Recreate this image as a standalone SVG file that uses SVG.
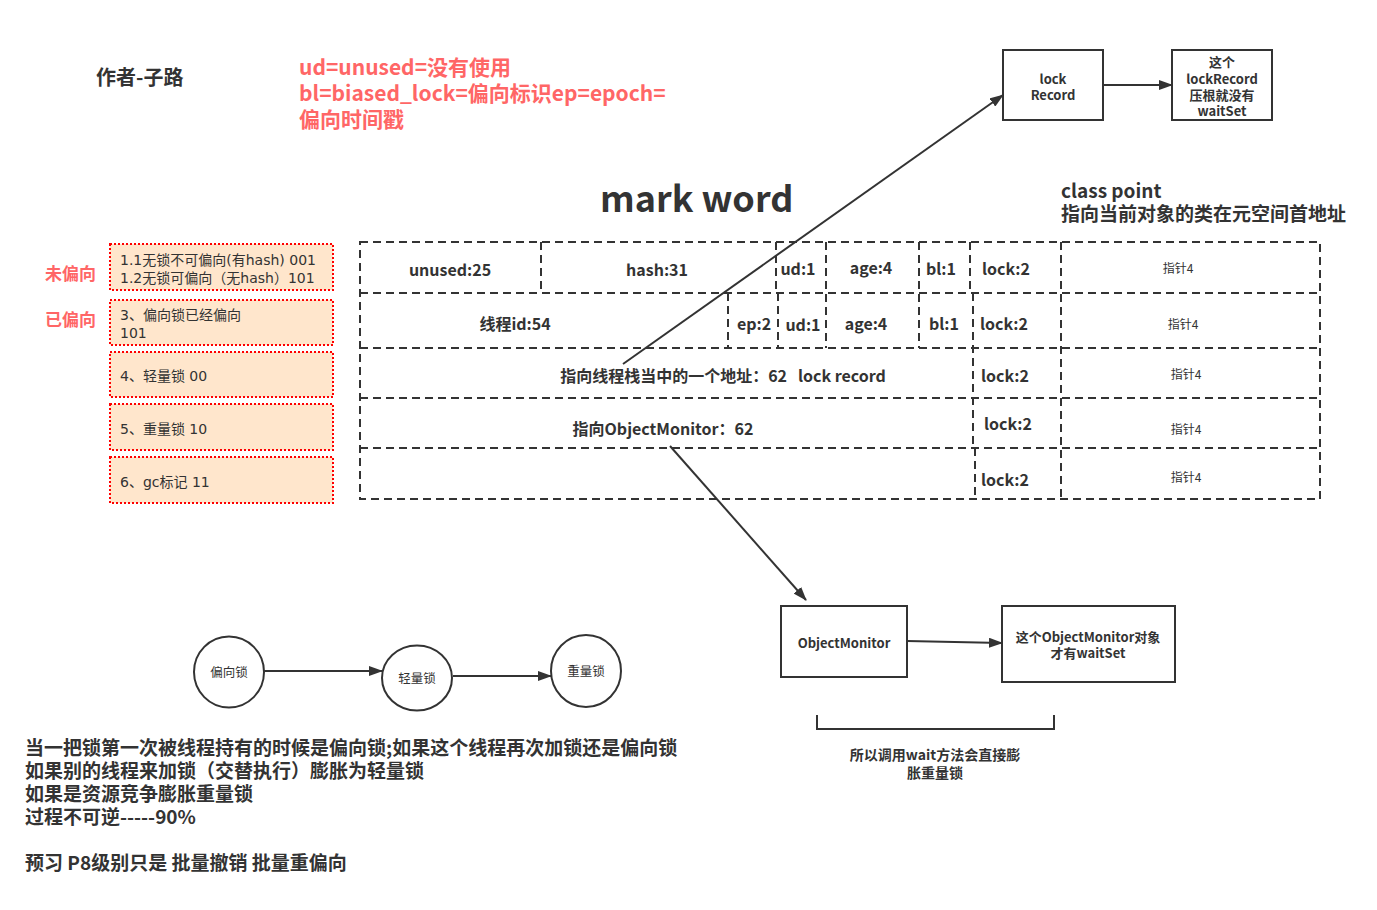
<svg xmlns="http://www.w3.org/2000/svg" width="1377" height="910" viewBox="0 0 1377 910">
<defs>
<marker id="ah" markerWidth="14" markerHeight="10" refX="13" refY="5" orient="auto" markerUnits="userSpaceOnUse">
<path d="M0,0 L14,5 L0,10 Z" fill="#333"/>
</marker>
<style>
text{font-family:"Noto Sans CJK SC","Noto Sans",sans-serif;fill:#333}
.b{font-weight:bold}
.t{font-size:16px;font-weight:bold;text-anchor:middle;white-space:pre}
.p{font-size:12px;text-anchor:middle}
.d{fill:none;stroke:#333;stroke-width:2;stroke-dasharray:8 5}
.lb{fill:#FFE6CC;stroke:#FF0000;stroke-width:2;stroke-dasharray:2 2}
.lt{font-size:14px;font-family:"DejaVu Sans","Noto Sans CJK SC",sans-serif}
.red{fill:#FF6666;font-weight:bold}
.box{fill:#fff;stroke:#333;stroke-width:2}
.s13{font-size:13px;font-weight:bold;text-anchor:middle}
.s14{font-size:14px;font-weight:bold;text-anchor:middle}
.c12{font-size:12.5px;text-anchor:middle}
.ln{stroke:#333;stroke-width:2;fill:none}
.bt{font-size:19px;font-weight:bold}
</style>
</defs>
<rect width="1377" height="910" fill="#fff"/>

<g id="titles">
<text x="96" y="85" class="b" font-size="20">作者-子路</text>
<text x="299" y="75" class="red" font-size="21">ud=unused=没有使用</text>
<text x="299" y="101" class="red" font-size="21">bl=biased_lock=偏向标识ep=epoch=</text>
<text x="299" y="127" class="red" font-size="21">偏向时间戳</text>
<text x="600" y="212" class="b" font-size="36">mark word</text>
<text x="1061" y="198" font-size="19" class="b">class point</text>
<text x="1061" y="221" font-size="19" class="b">指向当前对象的类在元空间首地址</text>
<text x="45" y="280" class="red" font-size="17">未偏向</text>
<text x="45" y="326" class="red" font-size="17">已偏向</text>
</g>

<g id="state-boxes">
<rect x="110" y="244" width="223" height="46" class="lb"/>
<text x="120" y="265" class="lt">1.1无锁不可偏向(有hash) 001</text>
<text x="120" y="283" class="lt">1.2无锁可偏向（无hash）101</text>
<rect x="110" y="300" width="223" height="45" class="lb"/>
<text x="120" y="320" class="lt">3、偏向锁已经偏向</text>
<text x="120" y="338" class="lt">101</text>
<rect x="110" y="352" width="223" height="45" class="lb"/>
<text x="120" y="381" class="lt">4、轻量锁 00</text>
<rect x="110" y="404" width="223" height="46" class="lb"/>
<text x="120" y="434" class="lt">5、重量锁 10</text>
<rect x="110" y="457" width="223" height="46" class="lb"/>
<text x="120" y="487" class="lt">6、gc标记 11</text>
</g>

<g id="markword-table">
<rect x="360" y="242" width="960" height="257" class="d"/>
<line x1="360" y1="293" x2="1320" y2="293" class="d"/>
<line x1="360" y1="348" x2="1320" y2="348" class="d"/>
<line x1="360" y1="398" x2="1320" y2="398" class="d"/>
<line x1="360" y1="448" x2="1320" y2="448" class="d"/>
<line x1="541" y1="242" x2="541" y2="293" class="d"/>
<line x1="776" y1="242" x2="776" y2="293" class="d"/>
<line x1="826" y1="242" x2="826" y2="348" class="d"/>
<line x1="919" y1="242" x2="919" y2="348" class="d"/>
<line x1="970" y1="242" x2="970" y2="293" class="d"/>
<line x1="973" y1="293" x2="973" y2="448" class="d"/>
<line x1="975" y1="448" x2="975" y2="499" class="d"/>
<line x1="1061" y1="242" x2="1061" y2="499" class="d"/>
<line x1="728" y1="293" x2="728" y2="348" class="d"/>
<line x1="778" y1="293" x2="778" y2="348" class="d"/>

<text x="450" y="276" class="t">unused:25</text>
<text x="657" y="276" class="t">hash:31</text>
<text x="798" y="275" class="t">ud:1</text>
<text x="871" y="274" class="t">age:4</text>
<text x="941" y="275" class="t">bl:1</text>
<text x="1006" y="275" class="t">lock:2</text>
<text x="1178" y="273" class="p">指针4</text>

<text x="515" y="330" class="t">线程id:54</text>
<text x="754" y="330" class="t">ep:2</text>
<text x="803" y="331" class="t">ud:1</text>
<text x="866" y="330" class="t">age:4</text>
<text x="944" y="330" class="t">bl:1</text>
<text x="1004" y="330" class="t">lock:2</text>
<text x="1183" y="329" class="p">指针4</text>

<text x="723" y="382" class="t" xml:space="preserve">指向线程栈当中的一个地址：62   lock record</text>
<text x="1005" y="382" class="t">lock:2</text>
<text x="1186" y="379" class="p">指针4</text>

<text x="663" y="435" class="t">指向ObjectMonitor：62</text>
<text x="1008" y="430" class="t">lock:2</text>
<text x="1186" y="434" class="p">指针4</text>

<text x="1005" y="486" class="t">lock:2</text>
<text x="1186" y="482" class="p">指针4</text>
</g>

<g id="lock-record">
<rect x="1003" y="50" width="100" height="70" class="box"/>
<text x="1053" y="84" class="s13">lock</text>
<text x="1053" y="100" class="s13">Record</text>
</g>
<g id="lock-record-note">
<rect x="1172" y="50" width="100" height="70" class="box"/>
<text x="1222" y="67" class="s13">这个</text>
<text x="1222" y="84" class="s13">lockRecord</text>
<text x="1222" y="100" class="s13">压根就没有</text>
<text x="1222" y="116" class="s13">waitSet</text>
</g>
<g id="object-monitor">
<rect x="781" y="606" width="126" height="71" class="box"/>
<text x="844" y="648" class="s13" font-size="13.5">ObjectMonitor</text>
</g>
<g id="object-monitor-note">
<rect x="1002" y="606" width="173" height="76" class="box"/>
<text x="1088" y="642" class="s13" font-size="13.5">这个ObjectMonitor对象</text>
<text x="1088" y="658" class="s13" font-size="13.5">才有waitSet</text>
</g>
<g id="bracket-note">
<path d="M817,715 V729 H1054 V715" class="ln"/>
<text x="935" y="760" class="s14">所以调用wait方法会直接膨</text>
<text x="935" y="778" class="s14">胀重量锁</text>
</g>

<g id="biased">
<ellipse cx="229" cy="672" rx="35" ry="35.5" class="box"/>
<text x="229" y="677" class="c12">偏向锁</text>
</g>
<g id="light">
<ellipse cx="417" cy="678" rx="35" ry="32.5" class="box"/>
<text x="417" y="683" class="c12">轻量锁</text>
</g>
<g id="heavy">
<ellipse cx="586" cy="671" rx="35" ry="36" class="box"/>
<text x="586" y="676" class="c12">重量锁</text>
</g>

<g id="connectors">
<line x1="1103" y1="85" x2="1172" y2="85" class="ln" marker-end="url(#ah)"/>
<line x1="623" y1="364" x2="1003" y2="95" class="ln" marker-end="url(#ah)"/>
<line x1="670" y1="446" x2="806" y2="600" class="ln" marker-end="url(#ah)"/>
<line x1="907" y1="641" x2="1002" y2="643" class="ln" marker-end="url(#ah)"/>
<line x1="264" y1="671" x2="382" y2="671" class="ln" marker-end="url(#ah)"/>
<line x1="453" y1="676" x2="551" y2="676" class="ln" marker-end="url(#ah)"/>
</g>

<g id="notes">
<text x="25" y="755" class="bt">当一把锁第一次被线程持有的时候是偏向锁;如果这个线程再次加锁还是偏向锁</text>
<text x="25" y="778" class="bt">如果别的线程来加锁（交替执行）膨胀为轻量锁</text>
<text x="25" y="801" class="bt">如果是资源竞争膨胀重量锁</text>
<text x="25" y="824" class="bt">过程不可逆-----90%</text>
<text x="25" y="870" class="bt">预习 P8级别只是 批量撤销 批量重偏向</text>
</g>
</svg>
